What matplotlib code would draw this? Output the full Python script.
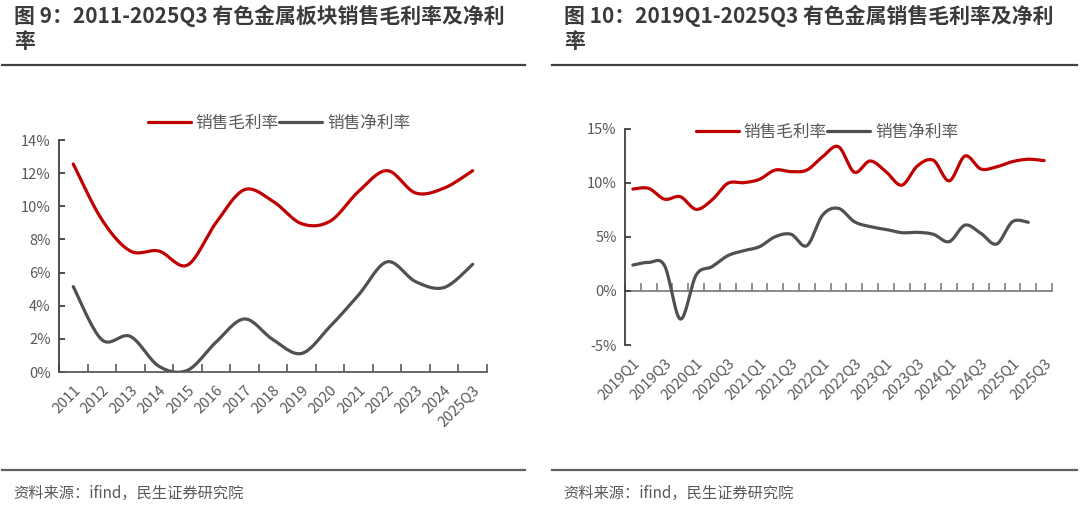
import numpy as np
import matplotlib.pyplot as plt
from matplotlib.ticker import FixedLocator, NullFormatter

plt.rcParams['font.family'] = ['Noto Sans CJK SC', 'DejaVu Sans']

# ---- data (%) ----
years = ['2011', '2012', '2013', '2014', '2015', '2016', '2017', '2018',
         '2019', '2020', '2021', '2022', '2023', '2024', '2025Q3']
gross_y = [12.55, 9.2, 7.3, 7.3, 6.45, 9.0, 11.0, 10.3,
           8.95, 9.1, 10.9, 12.15, 10.8, 11.1, 12.15]
net_y = [5.15, 1.95, 2.15, 0.35, 0.1, 1.8, 3.2, 1.95,
         1.12, 2.75, 4.65, 6.65, 5.45, 5.1, 6.5]

quarters = ['2019Q1', '2019Q2', '2019Q3', '2019Q4', '2020Q1', '2020Q2', '2020Q3',
            '2020Q4', '2021Q1', '2021Q2', '2021Q3', '2021Q4', '2022Q1', '2022Q2',
            '2022Q3', '2022Q4', '2023Q1', '2023Q2', '2023Q3', '2023Q4', '2024Q1',
            '2024Q2', '2024Q3', '2024Q4', '2025Q1', '2025Q2', '2025Q3']
gross_q = [9.44, 9.5, 8.5, 8.73, 7.56, 8.43, 9.97, 10.03, 10.34, 11.2, 11.05,
           11.2, 12.44, 13.36, 11.0, 12.04, 11.05, 9.8, 11.6, 12.1, 10.2,
           12.5, 11.3, 11.5, 11.98, 12.2, 12.07]
net_q = [2.4, 2.65, 2.35, -2.6, 1.48, 2.25, 3.27, 3.73, 4.1, 5.03, 5.25,
         4.2, 7.04, 7.65, 6.42, 5.96, 5.7, 5.4, 5.43, 5.25, 4.57, 6.1,
         5.34, 4.35, 6.42, 6.36]

RED = '#C00000'
GRAY = '#505050'
TXT = '#595959'


def smooth(y, n=20):
    # excel-style smoothed line (bezier through the points)
    x = np.arange(len(y), dtype=float)
    y = np.asarray(y, dtype=float)
    px = np.concatenate([[x[0]], x, [x[-1]]])
    py = np.concatenate([[y[0]], y, [y[-1]]])
    xs, ys = [], []
    t = np.linspace(0, 1, n)
    for i in range(1, len(x)):
        p0 = np.array([px[i], py[i]])
        p3 = np.array([px[i + 1], py[i + 1]])
        c1 = p0 + (p3 - np.array([px[i - 1], py[i - 1]])) / 6
        c2 = p3 - (np.array([px[i + 2], py[i + 2]]) - p0) / 6
        b = ((1 - t) ** 3)[:, None] * p0 + (3 * (1 - t) ** 2 * t)[:, None] * c1 \
            + (3 * (1 - t) * t ** 2)[:, None] * c2 + (t ** 3)[:, None] * p3
        xs.extend(b[:, 0])
        ys.extend(b[:, 1])
    return np.array(xs), np.array(ys)


def style_axes(ax, n):
    for s in ['top', 'right']:
        ax.spines[s].set_visible(False)
    ax.spines['left'].set_color('#404040')
    ax.spines['left'].set_linewidth(1.3)
    ax.set_xlim(-0.5, n - 0.5)
    ax.tick_params(axis='y', direction='in', length=4, width=1.3, color='#404040',
                   labelcolor=TXT, labelsize=10.5, pad=6)
    ax.yaxis.set_major_formatter(lambda v, p: f'{v:.0f}%')


fig = plt.figure(figsize=(10.8, 5.09), dpi=100)
W, H = 1080, 509


def add_ax(l, r, t, b):
    return fig.add_axes([l / W, 1 - b / H, (r - l) / W, (b - t) / H])


# ---- left chart ----
ax1 = add_ax(59, 487, 140, 372)
style_axes(ax1, len(years))
ax1.set_ylim(0, 14)
ax1.set_yticks(range(0, 15, 2))
xs, ys = smooth(gross_y)
ax1.plot(xs, ys, color=RED, lw=2.3, label='销售毛利率', solid_capstyle='round')
xs, ys = smooth(net_y)
ax1.plot(xs, ys, color=GRAY, lw=2.3, label='销售净利率', solid_capstyle='round')
ax1.spines['bottom'].set_color('#595959')
ax1.spines['bottom'].set_linewidth(1.3)
ax1.set_xticks(range(len(years)))
ax1.set_xticklabels(years, rotation=45, ha='right', rotation_mode='anchor')
ax1.xaxis.set_minor_locator(FixedLocator(np.arange(len(years) + 1) - 0.5))
ax1.tick_params(axis='x', which='major', length=0, labelcolor=TXT, labelsize=10.5, pad=8)
ax1.tick_params(axis='x', which='minor', direction='in', length=6, width=1.2, color='#595959')
ax1.legend(loc='center', bbox_to_anchor=((279 - 59) / 428, 1 + (140 - 123) / 232),
           ncol=2, frameon=False, fontsize=12, handlelength=2.6, handletextpad=0.3,
           columnspacing=0.0, labelcolor=TXT, borderaxespad=0)

# ---- right chart ----
ax2 = add_ax(625, 1052, 129, 345)
style_axes(ax2, len(quarters))
ax2.set_ylim(-5, 15)
ax2.set_yticks([-5, 0, 5, 10, 15])
xs, ys = smooth(gross_q)
ax2.plot(xs, ys, color=RED, lw=2.3, label='销售毛利率', solid_capstyle='round')
xs, ys = smooth(net_q)
ax2.plot(xs, ys, color=GRAY, lw=2.3, label='销售净利率', solid_capstyle='round')
ax2.spines['bottom'].set_visible(False)
ax2.set_xticks(range(0, len(quarters), 2))
ax2.set_xticklabels(quarters[::2], rotation=45, ha='right', rotation_mode='anchor')
ax2.tick_params(axis='x', length=0, labelcolor=TXT, labelsize=10.5, pad=8)
sec = ax2.secondary_xaxis(0.25)
sec.spines['bottom'].set_color('#7f7f7f')
sec.spines['bottom'].set_linewidth(1.3)
sec.set_xticks(np.arange(len(quarters) + 1) - 0.5)
sec.xaxis.set_major_formatter(NullFormatter())
sec.tick_params(axis='x', direction='in', length=6, width=1.2, color='#7f7f7f')
ax2.legend(loc='center', bbox_to_anchor=((827 - 625) / 427, 1 - (132 - 129) / 216),
           ncol=2, frameon=False, fontsize=12, handlelength=2.6, handletextpad=0.3,
           columnspacing=0.0, labelcolor=TXT, borderaxespad=0)

# ---- titles, rules, sources ----
TITLE = '#3a3a3a'
TS = 15
fig.text(14 / W, 1 - 16 / H, '图 9：2011-2025Q3 有色金属板块销售毛利率及净利',
         fontsize=TS, fontweight='bold', color=TITLE, va='center')
fig.text(14 / W, 1 - 42 / H, '率', fontsize=TS, fontweight='bold', color=TITLE, va='center')
fig.text(564 / W, 1 - 16 / H, '图 10：2019Q1-2025Q3 有色金属销售毛利率及净利',
         fontsize=TS, fontweight='bold', color=TITLE, va='center')
fig.text(564 / W, 1 - 42 / H, '率', fontsize=TS, fontweight='bold', color=TITLE, va='center')

for x0, x1 in [(2, 525), (552, 1077)]:
    fig.add_artist(plt.Line2D([x0 / W, x1 / W], [1 - 65 / H] * 2, color='#404040', lw=1.6))
    fig.add_artist(plt.Line2D([x0 / W, x1 / W], [1 - 470 / H] * 2, color='#606060', lw=1.6))

fig.text(13 / W, 1 - 493 / H, '资料来源：ifind，民生证券研究院', fontsize=11,
         color=TXT, va='center')
fig.text(563 / W, 1 - 493 / H, '资料来源：ifind，民生证券研究院', fontsize=11,
         color=TXT, va='center')

fig.savefig('out.png', dpi=100)
